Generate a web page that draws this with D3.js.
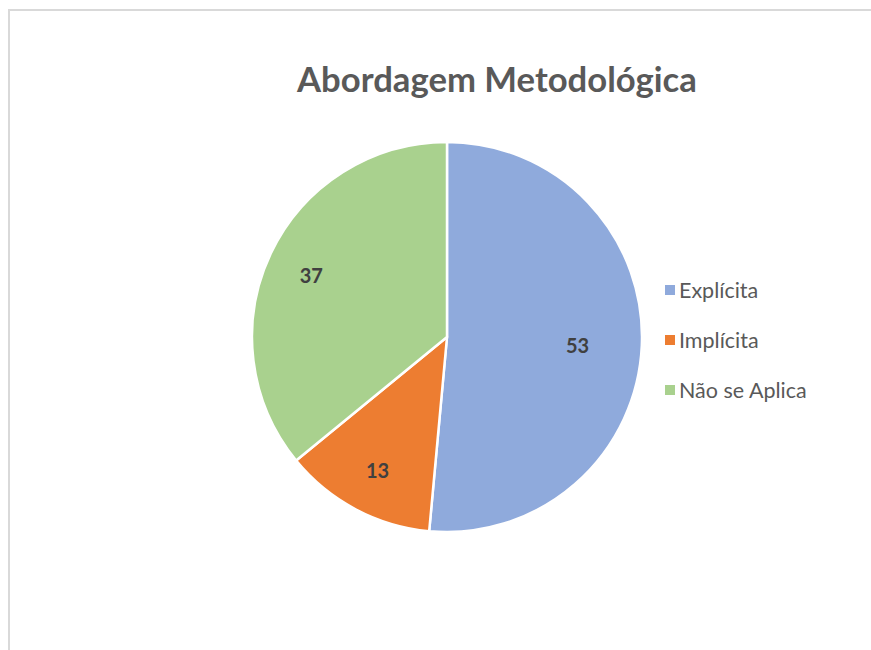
<!DOCTYPE html>
<html>
<head>
<meta charset="utf-8">
<script src="https://cdn.jsdelivr.net/npm/d3@7/dist/d3.min.js"></script>
<style>
  body { margin: 0; background: #fff; }
  svg text { font-family: Lato, "Open Sans", sans-serif; }
</style>
</head>
<body>
<div id="chart"></div>
<script>
var categories = ["Explícita", "Implícita", "Não se Aplica"];
var values = [53, 13, 37];
var colors = ["#8FAADC", "#ED7D31", "#A9D18E"];
var title = "Abordagem Metodológica";

var width = 871, height = 650;
var cx = 447, cy = 337, radius = 195;
// label distance from centre, as share of radius (Excel "best fit" look)
var labelRatio = [0.67, 0.76, 0.77];

var svg = d3.select("#chart")
  .append("svg")
  .attr("width", width)
  .attr("height", height);

// chart frame (right/bottom edges fall outside the shot)
svg.append("rect")
  .attr("x", 9).attr("y", 10)
  .attr("width", 880).attr("height", 660)
  .attr("fill", "#fff")
  .attr("stroke", "#d9d9d9")
  .attr("stroke-width", 2);

var titleText = svg.append("text")
  .attr("x", 497).attr("y", 92)
  .attr("text-anchor", "middle")
  .attr("fill", "#595959")
  .attr("font-weight", "bold")
  .attr("font-size", 32)
  .text(title);

// squeeze title to the width it has in the reference
var tw = titleText.node().getComputedTextLength();
if (tw > 0) titleText.attr("font-size", 32 * 400 / tw);

var pie = d3.pie().sort(null).value(function(d){ return d; });
var arc = d3.arc().innerRadius(0).outerRadius(radius);

var g = svg.append("g").attr("transform", "translate(" + cx + "," + cy + ")");

var slices = pie(values);

g.selectAll(".slice")
  .data(slices).enter().append("path")
    .attr("class", "slice")
    .attr("d", arc)
    .attr("fill", function(d, i){ return colors[i]; })
    .attr("stroke", "#fff")
    .attr("stroke-width", 2.5)
    .attr("stroke-linejoin", "round");

g.selectAll(".lbl")
  .data(slices).enter().append("text")
    .attr("class", "lbl")
    .attr("transform", function(d, i){
      var r = radius * labelRatio[i];
      var la = d3.arc().innerRadius(r).outerRadius(r);
      return "translate(" + la.centroid(d) + ")";
    })
    .attr("text-anchor", "middle")
    .attr("dy", "0.5em")
    .attr("font-size", 20)
    .attr("font-weight", "bold")
    .attr("fill", "#404040")
    .text(function(d){ return d.data; });

var legend = svg.append("g").attr("transform", "translate(665,290)");
var items = legend.selectAll(".legend-item")
  .data(categories).enter().append("g")
    .attr("class", "legend-item")
    .attr("transform", function(d, i){ return "translate(0," + (i * 50) + ")"; });

items.append("rect")
  .attr("x", 0).attr("y", -5)
  .attr("width", 10).attr("height", 10)
  .attr("fill", function(d, i){ return colors[i]; });

items.append("text")
  .attr("x", 14).attr("dy", "0.35em")
  .attr("font-size", 21.5)
  .attr("fill", "#595959")
  .text(function(d){ return d; });
</script>
</body>
</html>
